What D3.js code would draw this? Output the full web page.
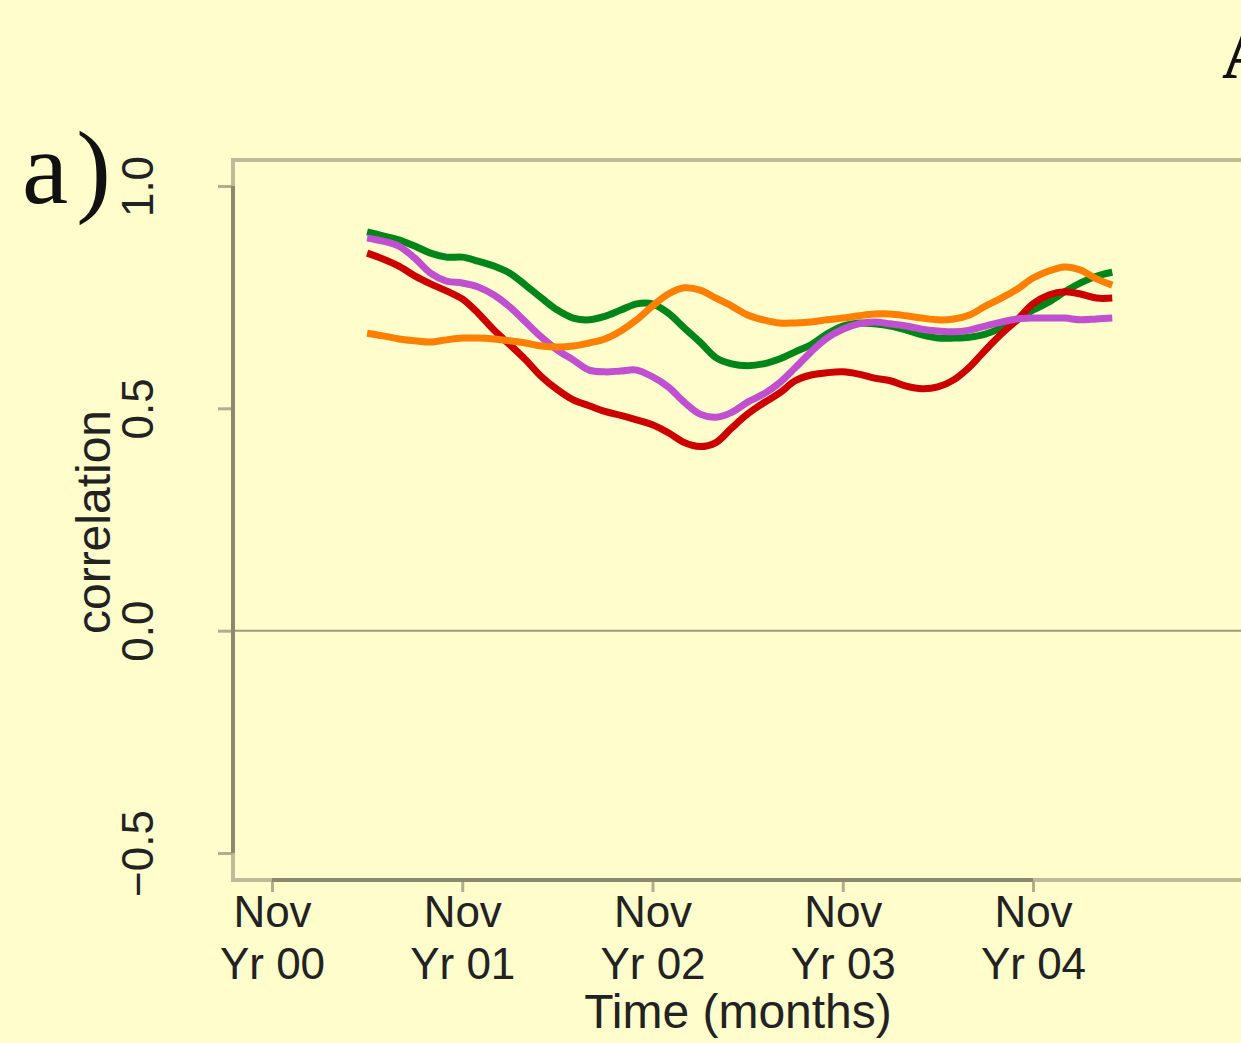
<!DOCTYPE html>
<html>
<head>
<meta charset="utf-8">
<script src="https://cdn.jsdelivr.net/npm/d3@7"></script>
<style>
  html, body { margin: 0; padding: 0; background: #fffdcc; }
  svg { display: block; }
</style>
</head>
<body>
<script>
// Months counted from Nov Yr 00 (0) — monthly running correlations, May Yr 01 .. Apr Yr 05
const months = d3.range(6, 54);

const greenSeries = [0.897,0.888,0.879,0.865,0.849,0.840,0.840,0.831,0.820,0.804,0.777,0.748,
  0.721,0.703,0.699,0.707,0.721,0.735,0.735,0.714,0.681,0.649,0.614,0.600,
  0.596,0.600,0.611,0.627,0.643,0.667,0.685,0.692,0.690,0.685,0.676,0.665,
  0.658,0.658,0.660,0.667,0.681,0.699,0.721,0.739,0.762,0.782,0.797,0.806];

const redSeries = [0.849,0.836,0.820,0.798,0.780,0.764,0.746,0.714,0.676,0.643,0.609,0.571,
  0.542,0.519,0.506,0.493,0.484,0.474,0.463,0.445,0.423,0.414,0.423,0.456,
  0.487,0.512,0.534,0.562,0.575,0.580,0.582,0.577,0.568,0.562,0.550,0.544,
  0.548,0.564,0.593,0.631,0.667,0.699,0.735,0.755,0.762,0.757,0.748,0.748];

const purpleSeries = [0.883,0.876,0.865,0.838,0.804,0.786,0.782,0.773,0.755,0.728,0.694,0.660,
  0.631,0.609,0.586,0.582,0.584,0.586,0.571,0.548,0.514,0.487,0.480,0.491,
  0.514,0.532,0.557,0.591,0.627,0.658,0.678,0.690,0.694,0.690,0.685,0.678,
  0.674,0.672,0.676,0.685,0.694,0.701,0.703,0.703,0.703,0.699,0.701,0.703];

const orangeSeries = [0.669,0.663,0.656,0.652,0.649,0.654,0.658,0.658,0.656,0.652,0.647,0.640,
  0.638,0.640,0.647,0.656,0.674,0.699,0.730,0.757,0.771,0.766,0.748,0.730,
  0.710,0.699,0.692,0.692,0.694,0.699,0.703,0.708,0.712,0.712,0.708,0.703,
  0.699,0.701,0.710,0.730,0.748,0.768,0.793,0.809,0.818,0.811,0.791,0.777];

const xTickMonths = [0, 12, 24, 36, 48];
const xTickTop = ["Nov", "Nov", "Nov", "Nov", "Nov"];
const xTickBottom = ["Yr 00", "Yr 01", "Yr 02", "Yr 03", "Yr 04"];
const yTickValues = [-0.5, 0, 0.5, 1.0];

const seriesList = [
  { values: greenSeries,  color: "#008518" },
  { values: redSeries,    color: "#cc0000" },
  { values: purpleSeries, color: "#c050d0" },
  { values: orangeSeries, color: "#ff8000" }
];

const W = 1241, H = 1043;
const box = { left: 233, right: 1243, top: 160, bottom: 880 };

const svg = d3.select("body").append("svg")
  .attr("width", W).attr("height", H)
  .style("background", "#fffdcc");

const x = d3.scaleLinear().domain([0, 48]).range([272, 1033]);
const y = d3.scaleLinear().domain([-0.5, 1.0]).range([853, 186]);

const textColor = "#222";
const sans = "'Liberation Sans', Arial, sans-serif";

// plot frame
svg.append("rect")
  .attr("x", box.left).attr("y", box.top)
  .attr("width", box.right - box.left).attr("height", box.bottom - box.top)
  .attr("fill", "none").attr("stroke", "#bdbb98").attr("stroke-width", 4);

// zero reference line
svg.append("line")
  .attr("x1", box.left).attr("x2", box.right)
  .attr("y1", y(0)).attr("y2", y(0))
  .attr("stroke", "#9e9c7e").attr("stroke-width", 2);

// y axis
const yAxis = svg.append("g")
  .attr("transform", `translate(${box.left},0)`)
  .call(d3.axisLeft(y).tickValues(yTickValues).tickSize(15).tickFormat(d3.format(".1f")));
yAxis.select(".domain").remove();
yAxis.selectAll(".tick line").attr("stroke", "#b0ae8c").attr("stroke-width", 3);
yAxis.selectAll(".tick text")
  .attr("x", null).attr("dy", null).attr("y", null)
  .attr("text-anchor", "middle")
  .attr("transform", "translate(-80,0) rotate(-90)")
  .attr("fill", textColor)
  .style("font-family", sans).style("font-size", "44px");
svg.append("line")
  .attr("x1", box.left).attr("x2", box.left)
  .attr("y1", y(1.0)).attr("y2", y(-0.5))
  .attr("stroke", "#8c8a6c").attr("stroke-width", 4);

// x axis
const xAxis = svg.append("g")
  .attr("transform", `translate(0,${box.bottom})`)
  .call(d3.axisBottom(x).tickValues(xTickMonths).tickSize(12).tickFormat(""));
xAxis.select(".domain").remove();
xAxis.selectAll(".tick line").attr("stroke", "#b0ae8c").attr("stroke-width", 3);
xAxis.selectAll(".tick text").remove();
xAxis.selectAll(".tick").each(function (d, i) {
  const t = d3.select(this).append("text")
    .attr("text-anchor", "middle")
    .attr("fill", textColor)
    .style("font-family", sans).style("font-size", "44px");
  t.append("tspan").attr("x", 0).attr("y", 47).text(xTickTop[i]);
  t.append("tspan").attr("x", 0).attr("y", 99).text(xTickBottom[i]);
});
svg.append("line")
  .attr("x1", x(0)).attr("x2", x(48))
  .attr("y1", box.bottom).attr("y2", box.bottom)
  .attr("stroke", "#8c8a6c").attr("stroke-width", 4);

// axis titles
svg.append("text")
  .attr("x", 738).attr("y", 1028)
  .attr("text-anchor", "middle").attr("fill", textColor)
  .style("font-family", sans).style("font-size", "48px")
  .text("Time (months)");
svg.append("text")
  .attr("transform", "translate(110,522) rotate(-90)")
  .attr("text-anchor", "middle").attr("fill", textColor)
  .style("font-family", sans).style("font-size", "48px")
  .text("correlation");

// panel letter
svg.append("text")
  .attr("x", 22).attr("y", 203)
  .attr("fill", "#111")
  .style("font-family", "'Liberation Serif', 'Times New Roman', serif")
  .style("font-size", "104px")
  .text("a")
  .append("tspan").attr("dx", 8).text(")");
// neighbouring panel heading, running past the right edge
svg.append("text")
  .attr("x", 1222).attr("y", 78)
  .attr("fill", "#111")
  .style("font-family", "'Liberation Serif', 'Times New Roman', serif")
  .style("font-weight", "bold")
  .style("font-size", "70px")
  .text("A");

// correlation curves
const line = d3.line()
  .x((d, i) => x(months[i]))
  .y(d => y(d))
  .curve(d3.curveCatmullRom.alpha(0.5));

svg.append("g").selectAll("path")
  .data(seriesList)
  .join("path")
  .attr("d", s => line(s.values))
  .attr("fill", "none")
  .attr("stroke", s => s.color)
  .attr("stroke-width", 7)
  .attr("stroke-linejoin", "round");
</script>
</body>
</html>
